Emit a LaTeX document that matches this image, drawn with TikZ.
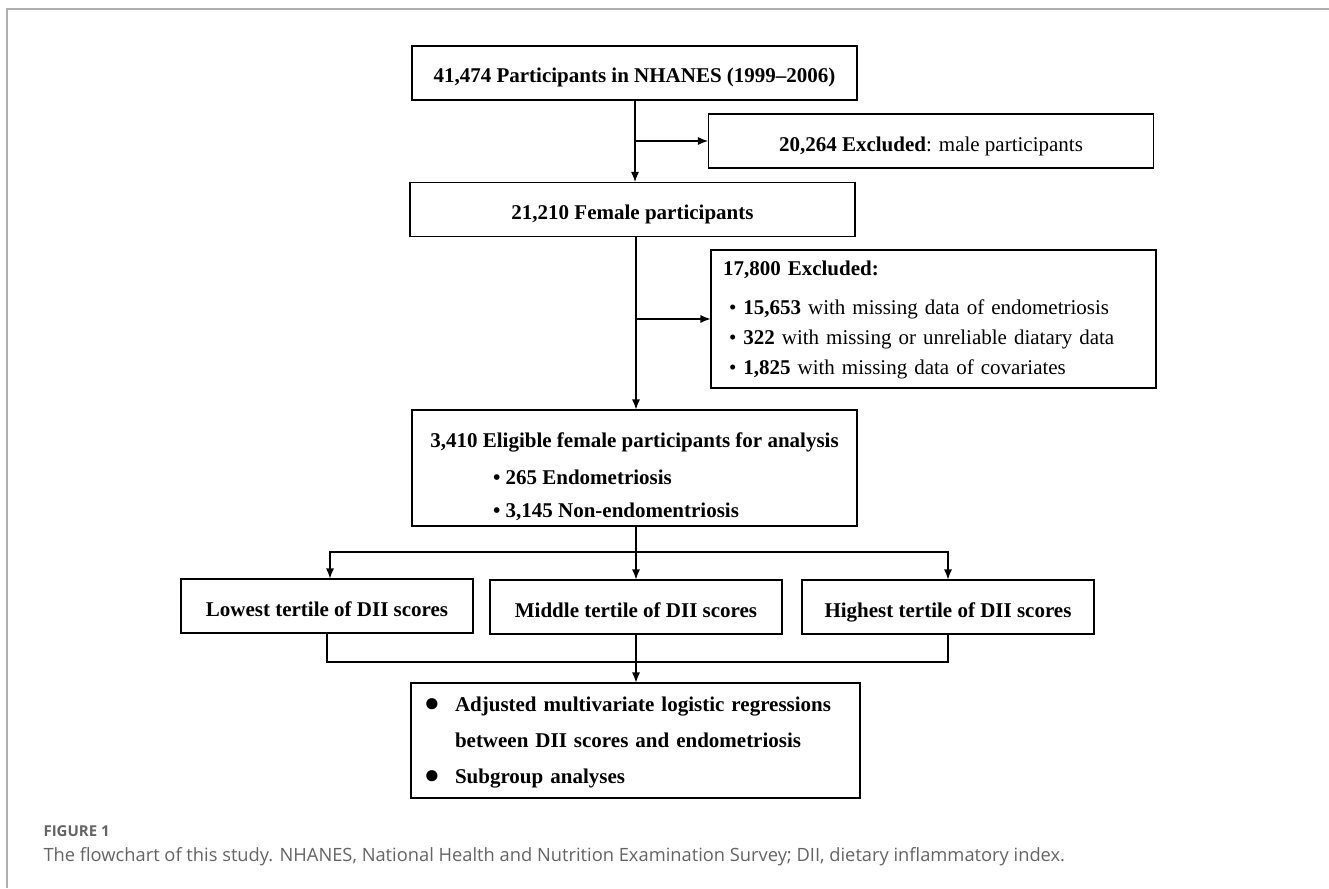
\documentclass[tikz,border=0pt]{standalone}
\usepackage{fontspec}
\setmainfont{Liberation Serif}
\newfontfamily\capfont{Open Sans}
\usepackage{tikz}
\usetikzlibrary{arrows.meta,calc}

\definecolor{framegray}{RGB}{175,175,175}
\definecolor{capgray}{RGB}{100,100,100}

\tikzset{
  box/.style={draw, line width=1.1pt, minimum width=445pt, minimum height=54pt,
    inner sep=0pt, font=\fontsize{21}{30}\selectfont\bfseries},
  single/.style={text height=22pt, text depth=2pt},
  tertile/.style={box, single, minimum width=292pt},
  arr/.style={line width=1.1pt, -{Latex[length=10pt,width=8pt]}},
  line/.style={line width=1.1pt}
}
\newcommand{\blob}{\makebox[31pt][l]{\fontsize{26}{26}\selectfont ●}}

\begin{document}
\begin{tikzpicture}[x=1pt,y=-1pt]
\useasboundingbox (0,0) rectangle (1329,888);
\draw[framegray, line width=2pt] (1329,9) -- (7,9) -- (7,888);

\node[box, single] (all) at (634.5,73) {41,474 Participants in NHANES (1999--2006)};
\node[box, single, font=\fontsize{21}{30}\selectfont] (ex1) at (931,141) {\textbf{20,264 Excluded}: male participants};
\node[box, single] (fem) at (632.5,209.5) {21,210 Female participants};
\node[box, minimum height=138pt, text width=421pt, align=left,
      font=\fontsize{21}{30}\selectfont] (ex2) at (933.5,319)
  {\rule{0pt}{17pt}\textbf{17,800 Excluded:}\\[9pt]
   \hspace*{6pt}• \textbf{15,653} with missing data of endometriosis\\
   \hspace*{6pt}• \textbf{322} with missing or unreliable diatary data\\
   \hspace*{6pt}• \textbf{1,825} with missing data of covariates};
\node[box, minimum height=116pt, align=center, font=\fontsize{21}{33}\selectfont\bfseries] (elig) at (634.5,468)
  {\rule{0pt}{32pt}3,410 Eligible female participants for analysis\\[4pt]
   \makebox[283pt][l]{• 265 Endometriosis}\\
   \makebox[283pt][l]{• 3,145 Non-endomentriosis}};

\node[tertile] (low) at (327,606) {Lowest tertile of DII scores};
\node[tertile] (mid) at (636,607) {Middle tertile of DII scores};
\node[tertile] (high) at (948,607) {Highest tertile of DII scores};

\node[box, minimum width=449pt, minimum height=115pt, text width=423pt, align=left,
      font=\fontsize{21}{36}\selectfont\bfseries] (res) at (635.5,740.5)
  {\rule{0pt}{18pt}\blob Adjusted multivariate logistic regressions\\
   \hspace*{31pt}between DII scores and endometriosis\\
   \blob Subgroup analyses};

% connectors
\coordinate (top) at (635,0);
\coordinate (mainline) at (636,0);
\draw[arr] (all.south -| top) -- (fem.north -| top);
\draw[arr] (ex1.west -| top) -- (ex1.west);
\draw[arr] (fem.south -| mainline) -- (elig.north -| mainline);
\draw[arr] (ex2.west -| mainline) -- (ex2.west);

\coordinate (split) at (636,552);
\draw[line] (elig.south -| split) -- (split);
\draw[arr] (split) -| ($(low.north)+(3,0)$);
\draw[arr] (split) -- (mid.north);
\draw[arr] (split) -| (high.north);

\coordinate (merge) at (636,662);
\draw[line] (low.south) |- (merge) -| (high.south);
\draw[arr] (mid.south) -- (res.north -| mid.south);

% caption
\node[anchor=base west, text=capgray, font=\capfont\fontsize{15}{17}\selectfont\bfseries] (fig) at (40,836) {FIGURE 1};
\node[anchor=base west, text=capgray, font=\capfont\fontsize{18.3}{20}\selectfont] (cap) at (40,861)
  {The flowchart of this study. NHANES, National Health and Nutrition Examination Survey; DII, dietary inflammatory index.};
\end{tikzpicture}
\end{document}
